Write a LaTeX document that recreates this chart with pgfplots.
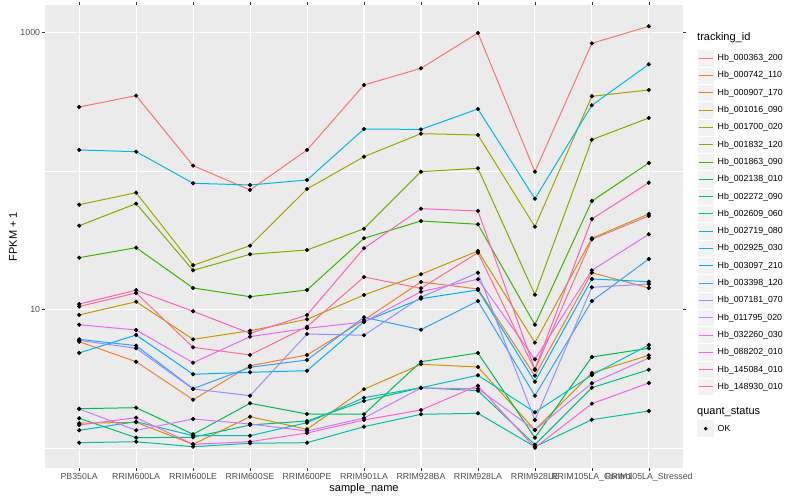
\documentclass[border=0pt]{standalone}
\usepackage{pgfplots}
\pgfplotsset{compat=1.18}
\usepackage{pgfplotstable}
\usepackage{fontspec}
\setmainfont{Liberation Sans}

\definecolor{panel}{HTML}{EBEBEB}
\definecolor{gray30}{HTML}{4D4D4D}
\definecolor{gray20}{HTML}{333333}
\definecolor{keybg}{HTML}{F2F2F2}
\definecolor{c1}{HTML}{F8766D}
\definecolor{c2}{HTML}{EA8331}
\definecolor{c3}{HTML}{D89000}
\definecolor{c4}{HTML}{C09B00}
\definecolor{c5}{HTML}{A3A500}
\definecolor{c6}{HTML}{7CAE00}
\definecolor{c7}{HTML}{39B600}
\definecolor{c8}{HTML}{00BB4E}
\definecolor{c9}{HTML}{00BF7D}
\definecolor{c10}{HTML}{00C1A3}
\definecolor{c11}{HTML}{00BFC4}
\definecolor{c12}{HTML}{00BAE0}
\definecolor{c13}{HTML}{00B0F6}
\definecolor{c14}{HTML}{35A2FF}
\definecolor{c15}{HTML}{9590FF}
\definecolor{c16}{HTML}{C77CFF}
\definecolor{c17}{HTML}{E76BF3}
\definecolor{c18}{HTML}{FA62DB}
\definecolor{c19}{HTML}{FF62BC}
\definecolor{c20}{HTML}{FF6C91}

% FPKM + 1, one row per sample (x = 0..10), one column per tracking_id
\pgfplotstableread{
x s1 s2 s3 s4 s5 s6 s7 s8 s9 s10 s11 s12 s13 s14 s15 s16 s17 s18 s19 s20
0 290.7 5.875 1.513 9.16 57.3 40.4 23.74 1.929 1.644 1.096 1.346 142.3 4.87 6.11 6.01 1.919 7.79 1.471 10.99 10.55
1 351 4.21 1.538 11.42 69.95 58.3 28.04 1.961 1.191 1.114 1.553 138.3 6.567 5.50 5.265 1.346 7.135 1.661 13.81 13.2
2 109.6 2.239 1.067 6.11 20.92 19.25 14.35 1.26 1.20 1.025 1.231 81.8 3.417 2.689 2.676 1.625 4.142 1.067 9.74 5.35
3 73.2 3.94 1.688 7.05 29.0 25.12 12.41 2.110 1.471 1.085 1.231 79.5 3.532 3.838 2.394 1.495 6.385 1.114 6.75 4.71
4 142.3 4.71 1.369 8.52 74.4 26.98 13.88 1.766 1.572 1.096 1.528 86.4 3.627 4.334 6.676 1.331 7.34 1.287 9.16 7.54
5 419 8.43 2.663 12.77 127.3 38.44 32.77 1.76 2.192 1.43 2.315 201.7 8.19 8.81 6.535 1.652 8.15 1.598 27.76 17.22
6 553 15.85 4.035 18.01 186.6 99.2 43.7 4.21 2.734 1.757 2.734 200.3 12.01 7.17 12.3 2.72 13.49 1.887 53.6 14.27
7 995 14.11 3.858 26.54 182.6 104.9 41.37 4.87 2.602 1.786 3.36 281.2 13.88 11.55 18.50 2.689 16.58 2.827 51.6 25.8
8 99.2 3.338 1.353 5.78 39.75 12.83 7.79 1.191 1.06 1.025 1.816 63.3 3.02 2.394 1.598 1.353 4.385 1.008 3.713 3.67
9 838 18.50 3.491 32.77 347.4 168.8 60.9 4.555 2.734 1.606 3.377 299.0 16.66 11.55 14.51 2.942 19.25 2.096 45.2 32.2
10 1112 14.35 4.686 49.1 385.8 242.2 114.6 5.265 3.688 1.856 5.56 591 15.93 23.23 15.33 4.48 35.03 2.956 82.6 47.5
}\fpkm

\begin{document}
\begin{tikzpicture}[x=1pt,y=1pt]
\useasboundingbox (0,0) rectangle (800,500);
\begin{axis}[
    at={(45pt,32pt)}, anchor=south west,
    scale only axis, width=638pt, height=463pt,
    xmin=-0.6, xmax=10.6,
    ymode=log, ymin=0.7194, ymax=1585,
    axis background/.style={fill=panel},
    axis line style={draw=none},
    xtick={0,...,10},
    xticklabels={PB350LA,RRIM600LA,RRIM600LE,RRIM600SE,RRIM600PE,RRIM901LA,RRIM928BA,RRIM928LA,RRIM928LE,RRIM105LA\_Control,RRIM105LA\_Stressed},
    ytick={10,1000}, yticklabels={10,1000},
    minor ytick={1,100},
    xmajorgrids, ymajorgrids, yminorgrids,
    major grid style={white, line width=1.07pt},
    minor grid style={white, line width=0.53pt},
    tick align=outside,
    major tick length=2.75pt,
    minor tick length=0pt,
    tick style={gray20, line width=0.53pt},
    ticklabel style={font=\fontsize{8.8}{10}\selectfont, text=gray30},
    xticklabel style={inner sep=1pt, yshift=-1pt},
    yticklabel style={inner sep=1pt, xshift=-1pt},
    xlabel={sample\_name}, ylabel={FPKM + 1},
    label style={font=\fontsize{11}{13}\selectfont, text=black},
    xlabel style={yshift=2pt},
    ylabel style={yshift=-1pt},
    clip=false,
]
\pgfplotsinvokeforeach{1,...,20}{
  \addplot[color=c#1, line width=1pt, mark=none] table[x=x, y=s#1]{\fpkm};
}
\pgfplotsinvokeforeach{1,...,20}{
  \addplot[only marks, mark=*, mark size=1.9pt, black] table[x=x, y=s#1]{\fpkm};
}
\end{axis}

% legend: tracking_id
\node[anchor=west, inner sep=0pt, font=\fontsize{11}{13}\selectfont] at (697,462) {tracking\_id};
\foreach \i/\name in {1/Hb\_000363\_200, 2/Hb\_000742\_110, 3/Hb\_000907\_170, 4/Hb\_001016\_090,
  5/Hb\_001700\_020, 6/Hb\_001832\_120, 7/Hb\_001863\_090, 8/Hb\_002138\_010, 9/Hb\_002272\_090,
  10/Hb\_002609\_060, 11/Hb\_002719\_080, 12/Hb\_002925\_030, 13/Hb\_003097\_210, 14/Hb\_003398\_120,
  15/Hb\_007181\_070, 16/Hb\_011795\_020, 17/Hb\_032260\_030, 18/Hb\_088202\_010, 19/Hb\_145084\_010,
  20/Hb\_148930\_010} {
  \pgfmathsetmacro\yc{441.7-17.3*(\i-1)}
  \fill[keybg, draw=white, line width=0.5pt] (697,\yc-8.65) rectangle (714.3,\yc+8.65);
  \draw[color=c\i, line width=1pt] (698.7,\yc) -- (712.6,\yc);
  \node[anchor=west, inner sep=0pt, font=\fontsize{8.8}{10}\selectfont] at (717.5,\yc) {\name};
}

% legend: quant_status
\node[anchor=west, inner sep=0pt, font=\fontsize{11}{13}\selectfont] at (697,88.3) {quant\_status};
\fill[keybg] (697,71.3-8.65) rectangle (714.3,71.3+8.65);
\fill[black] (705.65,71.3) circle (1.9pt);
\node[anchor=west, inner sep=0pt, font=\fontsize{8.8}{10}\selectfont] at (717.5,71.3) {OK};
\end{tikzpicture}
\end{document}
